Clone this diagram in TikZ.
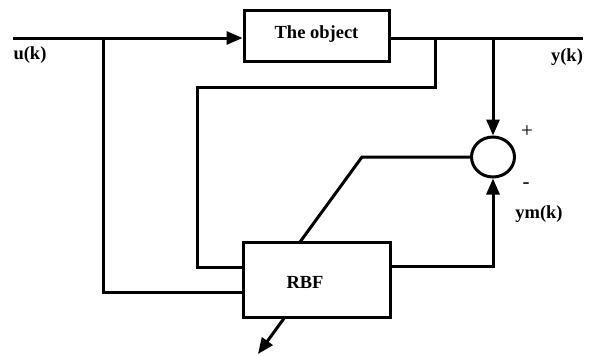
\documentclass[tikz,border=0pt]{standalone}
\usepackage{fontspec}
\setmainfont{Liberation Serif}
\usetikzlibrary{arrows.meta,shapes.geometric,calc}
\begin{document}
\begin{tikzpicture}[x=1pt,y=-1pt,
  wire/.style={line width=3pt},
  arr/.style={wire,-{Triangle[length=16pt,width=13pt]}},
  blk/.style={draw,line width=3pt,rectangle,inner sep=0pt},
  lbl/.style={font=\fontsize{18.5}{20}\selectfont\bfseries,inner sep=0pt},
  sgn/.style={font=\fontsize{21}{23}\selectfont,inner sep=0pt}]
\useasboundingbox (0,0) rectangle (592,356);
\node[blk,minimum width=145pt,minimum height=51pt] (obj) at (316.5,35.5) {};
\node[lbl] (objt) at (316.5,34) {The object};
\node[blk,minimum width=147pt,minimum height=75pt] (rbf) at (316.5,279.5) {};
\node[lbl] (rbft) at (305,282) {RBF};
\node[draw,line width=3pt,ellipse,minimum width=43pt,minimum height=40pt,inner sep=0pt] (sum) at (493,157) {};
\coordinate (uin) at (13,38);
\coordinate (yout) at (583,38);
\coordinate (b1) at (103,38);
\coordinate (b2) at (435,38);
\coordinate (b3) at (493,38);
\coordinate (k1) at (362,157);
\coordinate (k2) at (300,242);
\coordinate (o1) at (285,317);
\coordinate (o2) at (258,354);
\draw[arr] (uin) -- (uin -| obj.west);
\draw[wire] (obj.east |- yout) -- (yout);
\draw[wire] (b1) -- (103,292) -- (103,292 -| rbf.west);
\draw[wire] (b2) -- (435,87) -- (197,87) -- (197,267) -- (197,267 -| rbf.west);
\draw[arr] (b3) -- (sum.north);
\draw[arr] (rbf.east |- 0,266) -- (493,266) -- (sum.south);
\draw[wire] (sum.west) -- (k1) -- (k2);
\draw[arr] (o1) -- (o2);
\node[lbl] (u) at (30,55) {u(k)};
\node[lbl] (y) at (567,57) {y(k)};
\node[lbl] (ym) at (539,214) {ym(k)};
\node[sgn] (plus) at (527,132) {+};
\node[sgn] (minus) at (526,186) {-};
\end{tikzpicture}
\end{document}
